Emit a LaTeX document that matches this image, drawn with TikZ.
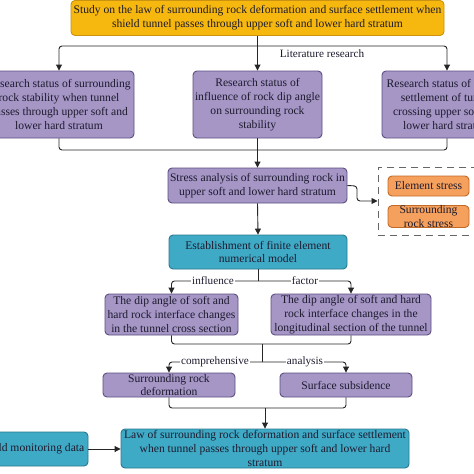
\documentclass[tikz,border=0pt]{standalone}
\usepackage{fontspec}
\setmainfont{Liberation Serif}
\usetikzlibrary{arrows.meta}
\definecolor{gold}{HTML}{F6B80E}
\definecolor{goldd}{HTML}{C99210}
\definecolor{purp}{HTML}{A596C6}
\definecolor{purpd}{HTML}{5E4F82}
\definecolor{teal}{HTML}{3FAAC6}
\definecolor{teald}{HTML}{2A7890}
\definecolor{orng}{HTML}{F5A05C}
\definecolor{orngd}{HTML}{C26A28}
\definecolor{txt}{HTML}{1E1B2E}
\definecolor{linec}{HTML}{262626}
\begin{document}
\begin{tikzpicture}[x=1pt,y=-1pt,
  box/.style={draw, line width=0.9pt, rounded corners=4pt, align=center, inner sep=0pt, text=txt, font=\fontsize{11.6}{13.8}\selectfont},
  gbox/.style={box, fill=gold, draw=goldd},
  pbox/.style={box, fill=purp, draw=purpd},
  tbox/.style={box, fill=teal, draw=teald},
  obox/.style={box, fill=orng, draw=orngd},
  conn/.style={draw=linec, line width=0.9pt, rounded corners=3pt},
  arr/.style={conn, -{Triangle[length=6pt,width=6pt]}},
  lab/.style={fill=white, inner sep=1pt, text=txt, font=\fontsize{11.2}{12}\selectfont},
  plainlab/.style={inner sep=1pt, text=txt, font=\fontsize{11.2}{12}\selectfont}]
\useasboundingbox (0,0) rectangle (474,474);
\clip (0,0) rectangle (474,474);
\fill[white] (0,0) rectangle (474,474);

% top
\node[gbox, minimum width=373pt, minimum height=35pt] (top) at (257.5,18) {Study on the law of surrounding rock deformation and surface settlement when\\shield tunnel passes through upper soft and lower hard stratum};

% row 2
\node[pbox, minimum width=150pt, minimum height=67pt] (ra) at (59,104.5) {Research status of surrounding\\rock stability when tunnel\\passes through upper soft and\\lower hard stratum};
\node[pbox, minimum width=129pt, minimum height=67pt] (rb) at (257.5,104.5) {Research status of\\influence of rock dip angle\\on surrounding rock\\stability};
\node[pbox, minimum width=130pt, minimum height=67pt] (rc) at (447,104.5) {Research status of surface\\settlement of tunnel\\crossing upper soft and\\lower hard stratum};

\coordinate (j1) at (257.5,46);
\draw[arr] (top.south) -- (j1) -- (rb.north);
\draw[arr] (j1) -| (ra.north);
\draw[arr] (j1) -| (rc.north);
\node[plainlab] (lit) at (322,54) {Literature research};

% stress
\node[pbox, minimum width=179pt, minimum height=35pt] (st) at (257.5,185.5) {Stress analysis of surrounding rock in\\upper soft and lower hard stratum};
\coordinate (j2) at (257.5,150);
\draw[conn] (ra.south) |- (j2);
\draw[conn] (rc.south) |- (j2);
\draw[arr] (rb.south) -- (st.north);

% dashed group
\node[draw=gray!80!black, dashed, dash pattern=on 7pt off 5pt, line width=1pt, minimum width=112pt, minimum height=68pt, inner sep=0pt] (grp) at (434,201) {};
\node[obox, minimum width=81pt, minimum height=20pt] (es) at (428.5,186) {Element stress};
\node[obox, minimum width=81pt, minimum height=21pt] (rs) at (428.5,216.5) {Surrounding\\rock stress};
\coordinate (k1) at (357,186);
\coordinate (k2) at (357,201);
\draw[arr] (st.east) -- (k1) -- (k2) -- (grp.west);

% FE model
\node[tbox, minimum width=178pt, minimum height=34pt] (fe) at (258,252) {Establishment of finite element\\numerical model};
\draw[arr] (st.south) -- (fe.north);

% dip angle boxes
\node[pbox, minimum width=133pt, minimum height=41pt] (da) at (171.5,314.5) {The dip angle of soft and\\hard rock interface changes\\in the tunnel cross section};
\node[pbox, minimum width=160pt, minimum height=41pt] (db) at (351,314.5) {The dip angle of soft and hard\\rock interface changes in the\\longitudinal section of the tunnel};
\coordinate (j3) at (258,281);
\draw[conn] (fe.south) -- (j3);
\draw[arr] (j3) -| (da.north);
\draw[arr] (j3) -| (db.north);
\node[lab] (inf) at (213,281) {influence};
\node[lab] (fac) at (305,281) {factor};

% deformation / subsidence
\node[pbox, minimum width=132pt, minimum height=24pt] (sd) at (169,385) {Surrounding rock\\deformation};
\node[pbox, minimum width=132pt, minimum height=24pt] (ss) at (346,385) {Surface subsidence};
\coordinate (j4) at (262,344);
\coordinate (j5) at (262,362);
\draw[conn] (da.south) |- (j4);
\draw[conn] (db.south) |- (j4);
\draw[conn] (j4) -- (j5);
\draw[arr] (j5) -| (sd.north);
\draw[arr] (j5) -| (ss.north);
\node[lab] (com) at (215,362) {comprehensive};
\node[lab] (ana) at (305,362) {analysis};

% law
\node[tbox, minimum width=288pt, minimum height=39pt] (law) at (265,448.5) {Law of surrounding rock deformation and surface settlement\\when tunnel passes through upper soft and lower hard\\stratum};
\node[tbox, minimum width=108pt, minimum height=34pt] (fmd) at (34,449) {Field monitoring data};
\coordinate (j6) at (265,408);
\draw[conn] (sd.south) |- (j6);
\draw[conn] (ss.south) |- (j6);
\draw[arr] (j6) -- (law.north);
\draw[arr] (fmd.east) -- (fmd.east -| law.west);
\end{tikzpicture}
\end{document}
